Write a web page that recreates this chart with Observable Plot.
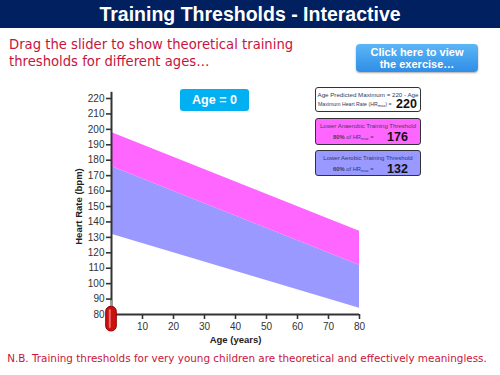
<!DOCTYPE html>
<html>
<head>
<meta charset="utf-8">
<script src="https://cdn.jsdelivr.net/npm/d3@7"></script>
<script src="https://cdn.jsdelivr.net/npm/@observablehq/plot@0.6"></script>
<style>
  html, body { margin: 0; padding: 0; background: #fff; }
  #page { position: relative; width: 500px; height: 375px; overflow: hidden; font-family: "Liberation Sans", Arial, sans-serif; }
  #titlebar { position: absolute; left: 0; top: 0; width: 500px; height: 28px; background: #002060; color: #fff; font-weight: bold; font-size: 19.5px; text-align: center; line-height: 29px; }
  #sub { position: absolute; left: 9px; top: 36px; color: #c8143c; font-family: "Comic Sans MS", "DejaVu Sans", sans-serif; font-size: 13.2px; line-height: 17px; }
  #btn { position: absolute; left: 356px; top: 44px; width: 122px; height: 28px; border-radius: 4px; background: linear-gradient(#5cb6f6, #2f8ee6); color: #fff; font-weight: bold; font-size: 11px; line-height: 12px; text-align: center; box-shadow: 0 1px 2px rgba(0,0,0,0.35); display:flex; align-items:center; justify-content:center; }
  #age { position: absolute; left: 180px; top: 89px; width: 69px; height: 22px; border-radius: 3px; background: #00b0f0; color: #fff; font-weight: bold; font-size: 12.5px; line-height: 22px; text-align: center; }
  .box { position: absolute; left: 315px; width: 104px; border: 1.5px solid #333; border-radius: 3px; color: #2f3b5a; }
  .l1 { position: absolute; left: 0; width: 104px; top: 3px; text-align: center; font-size: 6px; line-height: 8px; white-space: nowrap; }
  .l2 { position: absolute; white-space: nowrap; font-size: 5.2px; line-height: 8px; }
  .big { position: absolute; font-size: 12.5px; line-height: 14px; font-weight: bold; color: #111; }
  sub { font-size: 4px; vertical-align: -1px; }
  #note { position: absolute; left: 0; width: 494px; top: 352px; text-align: center; color: #c8143c; font-family: "Comic Sans MS", "DejaVu Sans", sans-serif; font-size: 10.4px; }
  #chart { position: absolute; left: 0; top: 0; }
  #chart svg g[aria-label$="tick"] { stroke-width: 1.6; }
</style>
</head>
<body>
<div id="page">
  <div id="chart"></div>
  <div id="titlebar">Training Thresholds - Interactive</div>
  <div id="sub">Drag the slider to show theoretical training<br>thresholds for different ages…</div>
  <div id="btn"><div>Click here to view<br>the exercise…</div></div>
  <div id="age"></div>
  <div class="box" style="top:87px;height:23px;background:#fff;">
    <div class="l1" style="top:3px;font-size:6.2px">Age Predicted Maximum = 220 - Age</div>
    <div class="l2" style="left:2px;top:12px">Maximum Heart Rate (HR<sub>max</sub>) =</div>
    <div class="big" id="hrmax" style="left:80px;top:9px"></div>
  </div>
  <div class="box" style="top:118px;height:25px;background:#ff66ff;color:#4a3a5a">
    <div class="l1">Lower Anaerobic Training Threshold</div>
    <div class="l2" style="left:17px;top:14px;font-size:5.8px"><b>80%</b> of HR<sub>max</sub> =</div>
    <div class="big" id="an" style="left:71px;top:11px"></div>
  </div>
  <div class="box" style="top:150px;height:24px;background:#9999ff;color:#2f3b6a">
    <div class="l1">Lower Aerobic Training Threshold</div>
    <div class="l2" style="left:17px;top:14px;font-size:5.8px"><b>60%</b> of HR<sub>max</sub> =</div>
    <div class="big" id="ae" style="left:71px;top:11px"></div>
  </div>
  <div id="note">N.B. Training thresholds for very young children are theoretical and effectively meaningless.</div>
</div>
<script>
// ---- data ----
const ages = [0, 80];
const upperBpm = [198, 134];     // top of pink band
const anaerobicBpm = [176, 112]; // 80% HRmax (pink/blue boundary)
const aerobicBpm = [132, 84];    // 60% HRmax (bottom of blue band)
const xTicks = [10, 20, 30, 40, 50, 60, 70, 80];
const yTicks = [80, 90, 100, 110, 120, 130, 140, 150, 160, 170, 180, 190, 200, 210, 220];
const sliderAge = [0];
const currentAge = 0;
const hrMax = 220;
const anaerobicVal = 176;
const aerobicVal = 132;

const rows = ages.map((a, i) => ({age: a, upper: upperBpm[i], mid: anaerobicBpm[i], lower: aerobicBpm[i]}));

document.getElementById("age").textContent = "Age = " + currentAge;
document.getElementById("hrmax").textContent = hrMax;
document.getElementById("an").textContent = anaerobicVal;
document.getElementById("ae").textContent = aerobicVal;

const chart = Plot.plot({
  width: 500,
  height: 375,
  marginLeft: 111,
  marginRight: 141,
  marginTop: 98,
  marginBottom: 61,
  style: {background: "transparent", fontFamily: "Liberation Sans, Arial, sans-serif", fontSize: "10px", color: "#333", overflow: "visible"},
  x: {domain: [0, 80], ticks: xTicks, tickSize: 5, tickPadding: 3, label: "Age (years)", labelArrow: "none", labelAnchor: "center", labelOffset: 28},
  y: {domain: [80, 220], ticks: yTicks, tickSize: 5, tickPadding: 2, label: "Heart Rate (bpm)", labelArrow: "none", labelAnchor: "center", labelOffset: 36},
  marks: [
    Plot.areaY(rows, {x: "age", y1: "lower", y2: "mid", fill: "#9999ff"}),
    Plot.areaY(rows, {x: "age", y1: "mid", y2: "upper", fill: "#ff66ff"}),
    Plot.ruleX([0], {y1: 80, y2: 224, stroke: "#333", strokeWidth: 2}),
    Plot.ruleY([80], {x1: 0, x2: 80, stroke: "#333", strokeWidth: 2}),
    Plot.ruleX(sliderAge, {y1: 84, y2: 89, stroke: "#999", strokeWidth: 1}),
    Plot.rect(sliderAge, {x1: d => d - 1.7, x2: d => d + 1.7, y1: 69, y2: 85, rx: 5, fill: "#cc1111", stroke: "#8a0000", strokeWidth: 1}),
    Plot.rect(sliderAge, {x1: d => d - 0.7, x2: d => d - 0.1, y1: 71, y2: 83, rx: 1, fill: "#ff9a9a", opacity: 0.7})
  ]
});
chart.querySelectorAll('[aria-label="x-axis label"] text, [aria-label="y-axis label"] text').forEach(t => {
  t.textContent = t.textContent.replace(/[↑↓←→]/g, "").trim();
  t.setAttribute("font-weight", "bold"); t.setAttribute("font-size", "9.5"); t.setAttribute("fill", "#222");
});
document.getElementById("chart").appendChild(chart);
</script>
</body>
</html>
